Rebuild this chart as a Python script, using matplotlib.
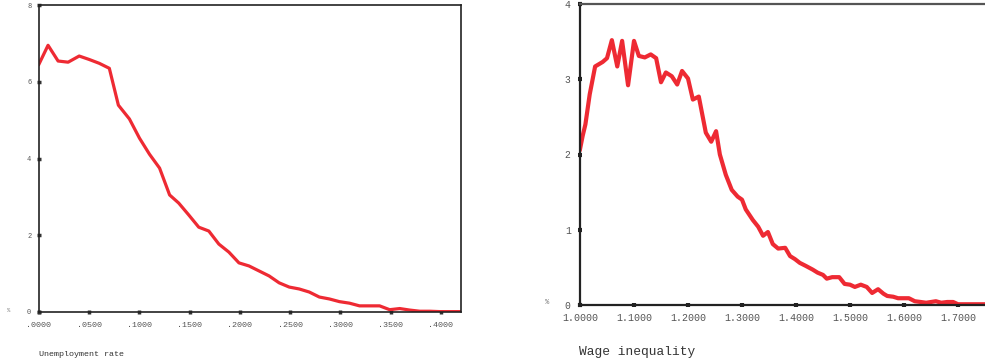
import numpy as np
import matplotlib.pyplot as plt

# unemployment rate density
unemp_x = [0.000, 0.009, 0.019, 0.029, 0.040, 0.050, 0.060, 0.070, 0.079, 0.090,
           0.100, 0.110, 0.120, 0.130, 0.139, 0.149, 0.159, 0.169, 0.179, 0.189,
           0.199, 0.209, 0.219, 0.229, 0.239, 0.249, 0.259, 0.269, 0.279, 0.289,
           0.299, 0.309, 0.319, 0.329, 0.339, 0.349, 0.359, 0.369, 0.379, 0.389,
           0.399, 0.409, 0.420]
unemp_y = [6.46, 6.95, 6.54, 6.51, 6.67, 6.58, 6.48, 6.35, 5.39, 5.03,
           4.53, 4.11, 3.75, 3.05, 2.84, 2.53, 2.21, 2.11, 1.77, 1.56,
           1.28, 1.20, 1.07, 0.94, 0.76, 0.65, 0.60, 0.52, 0.39, 0.34,
           0.27, 0.23, 0.16, 0.16, 0.16, 0.06, 0.09, 0.05, 0.02, 0.02,
           0.01, 0.01, 0.01]

# wage inequality density
wage_x = [1.000, 1.005, 1.010, 1.018, 1.028, 1.042, 1.050, 1.059, 1.069, 1.078,
          1.089, 1.100, 1.109, 1.120, 1.131, 1.141, 1.150, 1.159, 1.170, 1.180,
          1.189, 1.200, 1.209, 1.220, 1.233, 1.243, 1.252, 1.259, 1.270, 1.281,
          1.292, 1.300, 1.307, 1.320, 1.330, 1.339, 1.348, 1.357, 1.367, 1.380,
          1.389, 1.398, 1.407, 1.418, 1.431, 1.440, 1.450, 1.457, 1.467, 1.480,
          1.490, 1.500, 1.509, 1.520, 1.531, 1.541, 1.552, 1.562, 1.569, 1.580,
          1.589, 1.600, 1.609, 1.620, 1.631, 1.641, 1.650, 1.659, 1.669, 1.680,
          1.691, 1.700, 1.720, 1.750]
wage_y = [2.07, 2.25, 2.40, 2.80, 3.17, 3.23, 3.28, 3.52, 3.17, 3.51,
          2.92, 3.51, 3.31, 3.29, 3.33, 3.28, 2.96, 3.09, 3.04, 2.93,
          3.11, 3.01, 2.73, 2.77, 2.29, 2.17, 2.31, 2.00, 1.73, 1.53,
          1.44, 1.40, 1.27, 1.13, 1.04, 0.92, 0.97, 0.81, 0.75, 0.76,
          0.65, 0.61, 0.56, 0.52, 0.47, 0.43, 0.40, 0.35, 0.37, 0.37,
          0.28, 0.27, 0.24, 0.27, 0.24, 0.16, 0.21, 0.15, 0.12, 0.11,
          0.09, 0.09, 0.09, 0.05, 0.04, 0.03, 0.04, 0.05, 0.03, 0.04,
          0.04, 0.01, 0.01, 0.01]

left_xticks = [0.0, 0.05, 0.10, 0.15, 0.20, 0.25, 0.30, 0.35, 0.40]
left_xlabels = ['.0000', '.0500', '.1000', '.1500', '.2000', '.2500', '.3000', '.3500', '.4000']
left_yticks = [0, 2, 4, 6, 8]
right_xticks = [1.0, 1.1, 1.2, 1.3, 1.4, 1.5, 1.6, 1.7]
right_xlabels = ['1.0000', '1.1000', '1.2000', '1.3000', '1.4000', '1.5000', '1.6000', '1.7000']
right_yticks = [0, 1, 2, 3, 4]

red = '#ee2a33'
mono = 'Liberation Mono'

fig = plt.figure(figsize=(9.85, 3.64), dpi=100)
ax1 = fig.add_axes([39/985, 52/364, 422/985, 307/364])
ax2 = fig.add_axes([580/985, 59/364, 405/985, 301/364])

ax1.plot(unemp_x, unemp_y, color=red, lw=2.3, solid_joinstyle='round')
ax1.set_xlim(0, 0.42)
ax1.set_ylim(0, 8)
ax1.set_xticks(left_xticks, labels=left_xlabels)
ax1.set_yticks(left_yticks)
for s in ax1.spines.values():
    s.set_linewidth(1.2)
    s.set_color('#222222')
ax1.tick_params(axis='both', direction='inout', length=3, width=2.5, color='#333333',
                labelcolor='#555555')
ax1.tick_params(axis='x', labelsize=6, pad=6)
ax1.tick_params(axis='y', labelsize=5, pad=4)
for lab in ax1.get_xticklabels() + ax1.get_yticklabels():
    lab.set_family(mono)

ax2.plot(wage_x, wage_y, color=red, lw=3.0, solid_joinstyle='round')
ax2.set_xlim(1.0, 1.75)
ax2.set_ylim(0, 4)
ax2.set_xticks(right_xticks, labels=right_xlabels)
ax2.set_yticks(right_yticks)
for s in ax2.spines.values():
    s.set_linewidth(1.6)
    s.set_color('#222222')
ax2.spines['top'].set_color('#555555')
ax2.spines['right'].set_visible(False)
ax2.tick_params(axis='both', direction='inout', length=3.5, width=3, color='#222222',
                labelcolor='#555555')
ax2.tick_params(axis='x', labelsize=7.2, pad=4)
ax2.tick_params(axis='y', labelsize=7, pad=5)
for lab in ax2.get_xticklabels() + ax2.get_yticklabels():
    lab.set_family(mono)

fig.text(39/985, 1 - 354/364, 'Unemployment rate', family=mono, fontsize=6,
         color='#333333', ha='left', va='center')
fig.text(579/985, 1 - 352/364, 'Wage inequality', family=mono, fontsize=9.3,
         color='#333333', ha='left', va='center')
fig.text(9/985, 1 - 310/364, '%', family=mono, fontsize=4, color='#777777',
         ha='center', va='center')
fig.text(547/985, 1 - 302/364, '%', family=mono, fontsize=5, color='#777777',
         ha='center', va='center')

fig.savefig('out.png', dpi=100)
